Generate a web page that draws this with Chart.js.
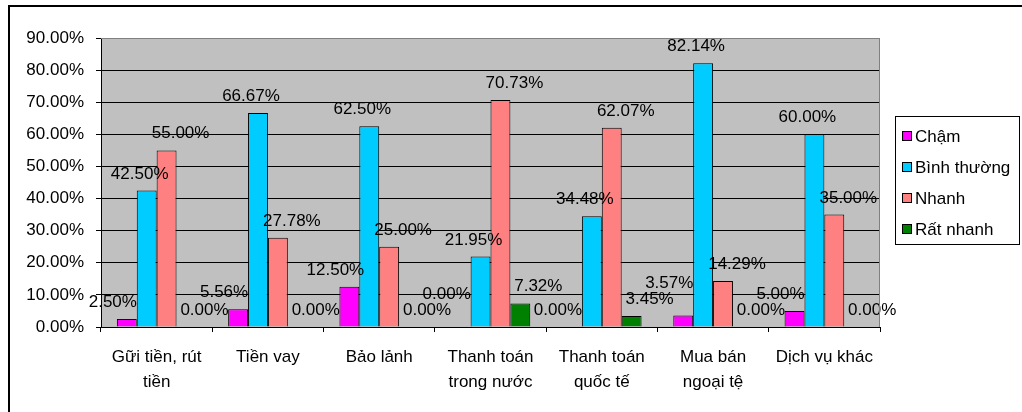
<!DOCTYPE html>
<html>
<head>
<meta charset="utf-8">
<script src="https://cdn.jsdelivr.net/npm/chart.js@4/dist/chart.umd.min.js"></script>
<style>
  html, body { margin: 0; padding: 0; background: #fff; }
  canvas { display: block; }
</style>
</head>
<body>
<canvas id="c" width="1022" height="412"></canvas>
<script>
// ---- data ----
const categories = [
  ["Gữi tiền, rút", "tiền"],
  ["Tiền vay"],
  ["Bảo lảnh"],
  ["Thanh toán", "trong nước"],
  ["Thanh toán", "quốc tế"],
  ["Mua bán", "ngoại tệ"],
  ["Dịch vụ khác"]
];
const seriesNames = ["Chậm", "Bình thường", "Nhanh", "Rất nhanh"];
const cham       = [2.50, 5.56, 12.50, 0.00, 0.00, 3.57, 5.00];
const binhThuong = [42.50, 66.67, 62.50, 21.95, 34.48, 82.14, 60.00];
const nhanh      = [55.00, 27.78, 25.00, 70.73, 62.07, 14.29, 35.00];
const ratNhanh   = [0.00, 0.00, 0.00, 7.32, 3.45, 0.00, 0.00];
const yTicks = [0, 10, 20, 30, 40, 50, 60, 70, 80, 90];

// ---- style ----
const colors = ["#FF00FF", "#00CCFF", "#FF8080", "#008000"];
const labelNudge = [-14, -7, 14, 18];
const FONT = '"Liberation Sans", Arial, sans-serif';
const FS = 17;

const seriesValues = [cham, binhThuong, nhanh, ratNhanh];
const datasets = seriesNames.map((name, i) => ({
  label: name,
  data: seriesValues[i],
  backgroundColor: colors[i],
  borderColor: "#000",
  borderWidth: ctx => (ctx.raw === 0 ? 0 : 1),
  borderSkipped: "bottom",
  categoryPercentage: 0.715,
  barPercentage: 1.0
}));

const frame = {
  id: "frame",
  beforeDraw(chart) {
    const { ctx, chartArea: a } = chart;
    ctx.save();
    ctx.fillStyle = "#fff";
    ctx.fillRect(0, 0, chart.width, chart.height);
    ctx.fillStyle = "#C0C0C0";
    ctx.fillRect(a.left, a.top, a.right - a.left, a.bottom - a.top);
    ctx.restore();
  },
  afterDraw(chart) {
    const { ctx, chartArea: a } = chart;
    ctx.save();
    ctx.strokeStyle = "#808080";
    ctx.lineWidth = 1;
    ctx.beginPath();
    ctx.moveTo(a.left, a.top + 0.5);
    ctx.lineTo(a.right - 0.5, a.top + 0.5);
    ctx.lineTo(a.right - 0.5, a.bottom);
    ctx.stroke();
    ctx.fillStyle = "#000";
    ctx.fillRect(8, 5, chart.width - 8, 2);
    ctx.fillRect(8, 5, 2, chart.height - 5);
    // legend
    const lx = 895.5, ly = 116.5, lw = 124, lh = 128;
    ctx.fillStyle = "#fff";
    ctx.fillRect(lx, ly, lw, lh);
    ctx.strokeStyle = "#000";
    ctx.strokeRect(lx, ly, lw, lh);
    ctx.font = FS + "px " + FONT;
    ctx.textBaseline = "middle";
    ctx.textAlign = "left";
    chart.data.datasets.forEach((ds, i) => {
      const cy = 136 + i * 31;
      ctx.fillStyle = ds.backgroundColor;
      ctx.fillRect(902.5, cy - 4.5, 9, 9);
      ctx.strokeStyle = "#000";
      ctx.strokeRect(902.5, cy - 4.5, 9, 9);
      ctx.fillStyle = "#000";
      ctx.fillText(ds.label, 915, cy + 1);
    });
    ctx.restore();
  },
  afterDatasetsDraw(chart) {
    const { ctx } = chart;
    ctx.save();
    ctx.font = FS + "px " + FONT;
    ctx.fillStyle = "#000";
    ctx.textAlign = "center";
    ctx.textBaseline = "alphabetic";
    const capH = Math.round(FS * 0.72);
    const placed = [];
    const n = chart.data.labels.length;
    for (let j = 0; j < n; j++) {
      chart.data.datasets.forEach((ds, i) => {
        const bar = chart.getDatasetMeta(i).data[j];
        const txt = ds.data[j].toFixed(2) + "%";
        const w = ctx.measureText(txt).width;
        const cx = bar.x + labelNudge[i];
        let base = bar.y - 12;
        let moved = true;
        while (moved) {
          moved = false;
          for (const b of placed) {
            const ox = cx - w / 2 < b.x2 && cx + w / 2 > b.x1;
            const oy = base - capH < b.y2 && base > b.y1;
            if (ox && oy) { base = b.y1 - 4; moved = true; }
          }
        }
        placed.push({ x1: cx - w / 2, x2: cx + w / 2, y1: base - capH, y2: base });
        ctx.fillText(txt, cx, base);
      });
    }
    ctx.restore();
  }
};

new Chart(document.getElementById("c"), {
  type: "bar",
  data: { labels: categories, datasets },
  options: {
    responsive: false,
    animation: false,
    devicePixelRatio: 1,
    layout: { padding: { top: 38, right: 142, bottom: 0, left: 0 } },
    plugins: { legend: { display: false }, tooltip: { enabled: false } },
    scales: {
      x: {
        offset: true,
        grid: {
          offset: true,
          drawOnChartArea: false,
          drawTicks: true,
          tickLength: 5,
          color: "#000"
        },
        border: { display: true, color: "#000", width: 1 },
        ticks: {
          color: "#000",
          font: { family: FONT, size: FS, lineHeight: 1.47 },
          maxRotation: 0,
          minRotation: 0,
          autoSkip: false,
          padding: 13
        },
        afterFit(scale) { scale.height = 85; }
      },
      y: {
        min: 0,
        max: 90,
        afterBuildTicks(scale) { scale.ticks = yTicks.map(v => ({ value: v })); },
        grid: {
          color: ctx => (ctx.tick && ctx.tick.value === 90 ? "#808080" : "#000"),
          tickColor: "#000",
          tickLength: 5,
          drawTicks: true
        },
        border: { display: true, color: "#000", width: 1 },
        ticks: {
          color: "#000",
          font: { family: FONT, size: FS },
          padding: 12,
          callback: v => Number(v).toFixed(2) + "%"
        },
        afterFit(scale) { scale.width = 101; }
      }
    }
  },
  plugins: [frame]
});
</script>
</body>
</html>
